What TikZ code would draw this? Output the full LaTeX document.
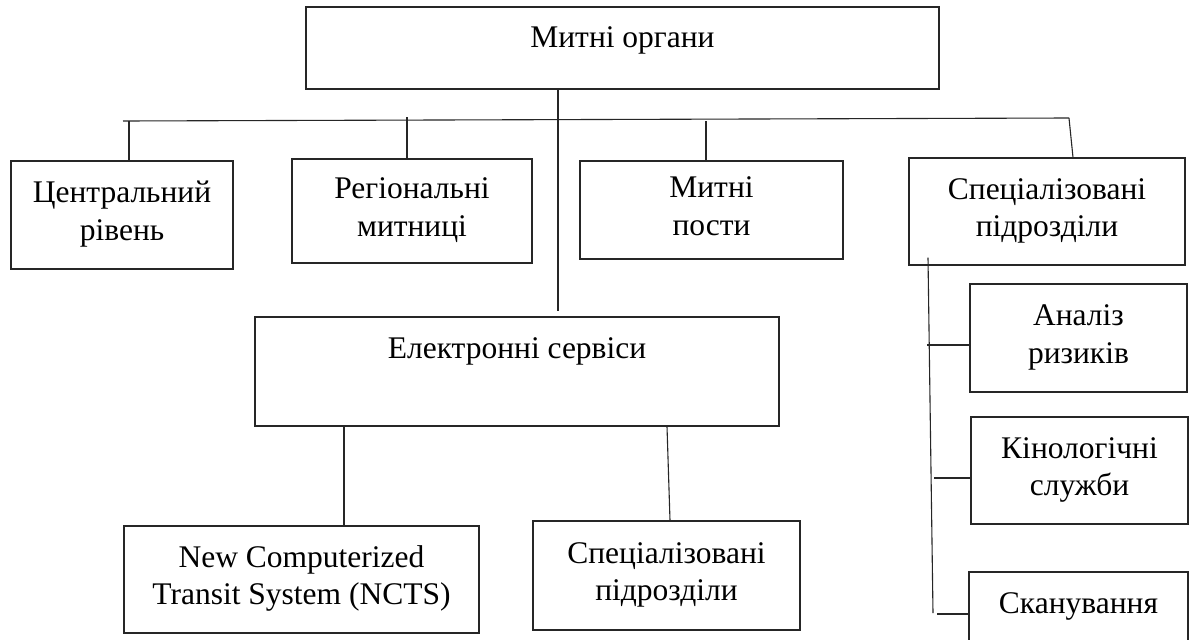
\documentclass[tikz,border=0pt]{standalone}
\usepackage{fontspec}
\setmainfont{Liberation Serif}
\usetikzlibrary{calc}
\begin{document}
\begin{tikzpicture}[x=1pt,y=-1pt,
  box/.style={draw=black!85, line width=1.1pt, rectangle, inner sep=0pt, align=center,
              font=\fontsize{31.5pt}{37.5pt}\selectfont},
  two/.style={text height=58.5pt, text depth=8pt},
  conn/.style={draw=black!85, line width=1.1pt}]
\clip (0,0) rectangle (1189,640);
\fill[white] (0,0) rectangle (1189,640);

% boxes
\node[box, minimum width=633pt, minimum height=82pt, text height=21pt, text depth=23pt] (top) at (622.5,48) {Митні органи};
\node[box,two, minimum width=222pt, minimum height=108pt] (central) at (122,215) {Центральний\\рівень};
\node[box,two, minimum width=240pt, minimum height=104pt] (regional) at (412,211) {Регіональні\\митниці};
\node[box,two, minimum width=263pt, minimum height=98pt] (posts) at (711.5,210) {Митні\\пости};
\node[box,two, minimum width=276pt, minimum height=107pt] (spec) at (1047,211.5) {Спеціалізовані\\підрозділи};
\node[box, minimum width=524pt, minimum height=109pt, text height=21pt, text depth=48pt] (eserv) at (517,371.5) {Електронні сервіси};
\node[box,two, minimum width=355pt, minimum height=107pt] (ncts) at (301.5,579.5) {New Computerized\\Transit System (NCTS)};
\node[box,two, minimum width=267pt, minimum height=109pt] (spec2) at (666.5,575.5) {Спеціалізовані\\підрозділи};
\node[box,two, minimum width=217pt, minimum height=108pt] (analiz) at (1078.5,338) {Аналіз\\ризиків};
\node[box,two, minimum width=217pt, minimum height=107pt] (kino) at (1079.5,470.5) {Кінологічні\\служби};
\node[box, minimum width=219pt, minimum height=108pt, text height=21pt, text depth=47pt] (scan) at (1078.5,626) {Сканування};

% bus line
\coordinate (busL) at (123,121);
\coordinate (busR) at (1069,118);
\draw[conn] (busL) -- (busR);

% main vertical
\draw[conn] ($(top.south)+(-64.5,0)$) -- ($(eserv.north)+(41,-5)$);

% drops to level 2
\draw[conn] ($(central.north)+(7,0)$) coordinate (d1) -- (d1 |- busL);
\draw[conn] ($(regional.north)+(-5,0)$) coordinate (d2) -- ($(d2 |- busL)+(0,-4)$);
\draw[conn] ($(posts.north)+(-5.5,0)$) coordinate (d3) -- (d3 |- busL);
\draw[conn] ($(spec.north)+(26,0)$) -- (busR);

% electronic services children
\draw[conn] ($(eserv.south)+(-173,0)$) -- ($(ncts.north)+(42.5,0)$);
\draw[conn] ($(eserv.south)+(150,0)$) -- ($(spec2.north)+(3.5,0)$);

% specialised units vertical and ticks
\draw[conn] ($(spec.south)+(-119,-8)$) coordinate (v0) -- (933,613) coordinate (v1);
\draw[conn] ($(analiz.west)+(0,7)$) -- ++(-42,0);
\draw[conn] ($(kino.west)+(0,7.5)$) -- ++(-36,0);
\draw[conn] ($(scan.west)+(0,-12)$) -- ++(-31,0);
\end{tikzpicture}
\end{document}
